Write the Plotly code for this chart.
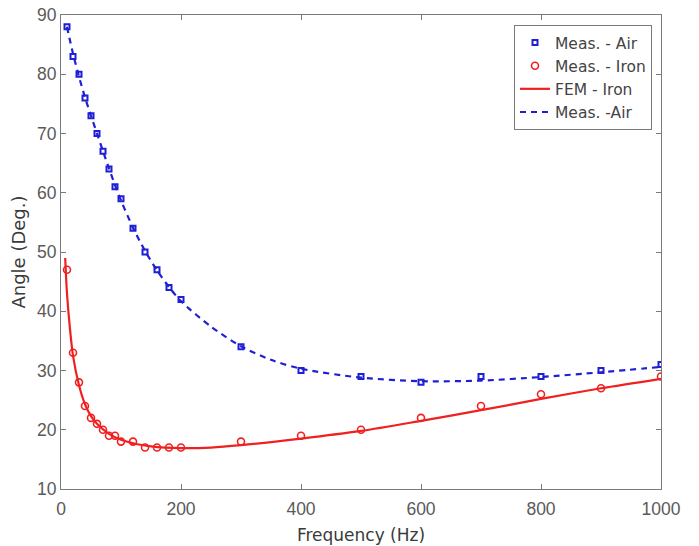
import plotly.graph_objects as go

# Measured data
freq = [10, 20, 30, 40, 50, 60, 70, 80, 90, 100, 120, 140, 160, 180, 200,
        300, 400, 500, 600, 700, 800, 900, 1000]
air_meas = [88, 83, 80, 76, 73, 70, 67, 64, 61, 59, 54, 50, 47, 44, 42,
            34, 30, 29, 28, 29, 29, 30, 31]
iron_meas = [47, 33, 28, 24, 22, 21, 20, 19, 19, 18, 18, 17, 17, 17, 17,
             18, 19, 20, 22, 24, 26, 27, 29]

# FEM curve (iron)
fem_freq = [7, 10, 15, 20, 30, 40, 50, 60, 80, 100, 125, 150, 200, 250,
            300, 400, 500, 600, 700, 800, 900, 1000]
fem_iron = [49, 43, 37, 32.5, 27.5, 24.3, 22.3, 21.0, 19.3, 18.3, 17.6,
            17.2, 16.9, 17.0, 17.4, 18.5, 19.8, 21.5, 23.3, 25.2, 27.0, 28.6]

# Fitted curve (air)
air_fit_freq = [10, 20, 30, 40, 50, 60, 70, 80, 90, 100, 120, 140, 160, 180,
                200, 250, 300, 350, 400, 500, 600, 700, 800, 900, 1000]
air_fit = [88, 83.5, 79.6, 76.1, 73, 70, 67, 64.1, 61.3, 58.7, 54.1, 50.2,
           46.9, 44.1, 41.7, 37.4, 34.1, 31.8, 30.3, 28.8, 28.2, 28.3, 28.9,
           29.7, 30.6]

x_ticks = [0, 200, 400, 600, 800, 1000]
y_ticks = [10, 20, 30, 40, 50, 60, 70, 80, 90]

BLUE = "#1f1fd6"
RED = "#f02020"
FONT = "Arial, Liberation Sans"
WIDE = "DejaVu Sans"

fig = go.Figure()
fig.add_trace(go.Scatter(
    x=freq, y=air_meas, mode="markers", name="Meas. - Air",
    marker=dict(symbol="square-open", size=5, color=BLUE,
                line=dict(width=2, color=BLUE))))
fig.add_trace(go.Scatter(
    x=freq, y=iron_meas, mode="markers", name="Meas. - Iron",
    marker=dict(symbol="circle-open", size=7, color=RED,
                line=dict(width=1.6, color=RED))))
fig.add_trace(go.Scatter(
    x=fem_freq, y=fem_iron, mode="lines", name="FEM - Iron",
    line=dict(color=RED, width=2.2, shape="spline", smoothing=0.8)))
fig.add_trace(go.Scatter(
    x=air_fit_freq, y=air_fit, mode="lines", name="Meas. -Air",
    line=dict(color=BLUE, width=2.2, dash="6px,5px", shape="spline",
              smoothing=0.8)))

axis_common = dict(
    showline=True, linecolor="#7a7a7a", linewidth=1, mirror="ticks",
    ticks="inside", ticklen=5, tickcolor="#7a7a7a", showgrid=False,
    zeroline=False, automargin=False,
    tickfont=dict(family=FONT, size=17.5, color="#5a5a5a"))

fig.update_xaxes(range=[0, 1000], tickvals=x_ticks, ticklabelstandoff=4,
                 title=dict(text="Frequency (Hz)", standoff=11,
                            font=dict(family=WIDE, size=17, color="#3a3a3a")),
                 **axis_common)
fig.update_yaxes(range=[10, 90], tickvals=y_ticks,
                 title=dict(text="Angle (Deg.)", standoff=6,
                            font=dict(family=WIDE, size=18, color="#3a3a3a")),
                 **axis_common)

fig.update_layout(
    width=699, height=546,
    margin=dict(l=61, r=38, t=15, b=57),
    paper_bgcolor="white", plot_bgcolor="white",
    legend=dict(x=0.985, y=0.979, xanchor="right", yanchor="top",
                bgcolor="white", bordercolor="#7a7a7a", borderwidth=1,
                font=dict(family=WIDE, size=15.5, color="#444444"),
                tracegroupgap=0, itemwidth=30),
    showlegend=True,
)

fig.write_html("out.html")
